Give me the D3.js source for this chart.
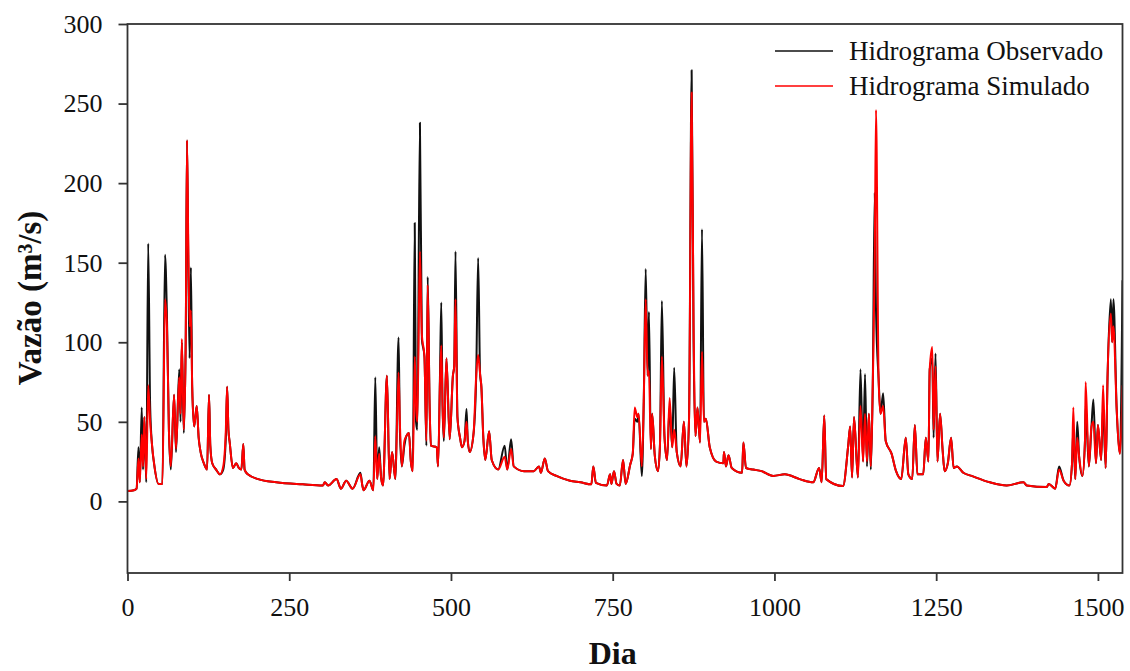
<!DOCTYPE html>
<html>
<head>
<meta charset="utf-8">
<script src="https://cdn.jsdelivr.net/npm/d3@7"></script>
<style>
  body { margin: 0; background: #fff; }
  svg text { font-family: "Liberation Serif", "Times New Roman", serif; fill: #111; }
</style>
</head>
<body>
<svg id="chart" width="1130" height="671"></svg>
<script>
// days (irregular, at peaks and troughs)
var dias = [0,10,14,17,19,22,24,26,29,32,35,38,41,48,54,58,61,64,67,72,75,80,82,84,87,90,92,94,96,98,
  100,103,107,110,113,118,123,126,128,131,137,143,148,152,154,156,158,163,168,172,176,179,181,186,202,230,271,
  302,305,310,323,330,338,348,360,363,365,374,380,383,386,389,392,395,
  401,405,409,414,419,421,424,428,431,435,438,441,444,446,448,452,455,459,462,464,467,469,478,480,483,485,487,489,493,498,
  503,505,507,510,514,517,521,524,526,529,535,539,542,545,547,550,553,559,563,573,583,587,593,597,
  613,628,636,639,645,650,663,684,700,717,720,724,741,746,748,752,756,761,766,770,777,781,784,788,790,795,798,
  801,804,806,809,811,815,820,823,826,830,834,838,842,845,849,855,860,864,868,872,875,878,881,885,888,891,894,
  900,910,921,922,925,929,934,950,952,956,967,980,998,1016,1039,1060,1069,1073,1077,1080,
  1106,1114,1117,1120,1123,1129,1133,1137,1140,1143,1146,1149,1152,1155,1157,1161,1164,1168,1172,1181,1188,1196,
  1203,1207,1213,1217,1221,1230,1234,1238,1240,1244,1246,1249,1252,1256,1260,1263,1268,1273,1277,1282,1292,
  1305,1333,1359,1385,1390,1421,1424,1434,1440,1447,1456,1460,1462,1465,1468,1471,1476,1480,1481,1486,1490,1493,1497,
  1500,1505,1508,1512,1515,1520,1522,1524,1529,1534,1538];

var observado = [6.5,7,8,34,12,59,20,53,12,162,60,35,24,11,11,155,116,45,20,67,31,83,50,100,43,102,227,150,90,147,
  72,47,60,40,31,24,20,67,35,24,20,17,20,40,72,45,37,21,24,21,20,36,20,17,14,12,10.7,
  10,12,10,14,8,13,8,18,10,7,13,7,78,14,34,15,10,
  79,14,31,14,103,45,22,35,41,43,25,19,175,50,45,238,102,91,35,141,60,35,34,22,79,125,60,38,90,39,
  79,85,157,53,40,34,38,58,38,31,43,79,153,80,72,40,26,44,26,20,35,20,39,22,
  19,19,22,18,27,19,16,13,12,10.7,22,11.7,10,17,11,19,11,10,26,11,23,30,52,50,55,16,63,
  146,79,119,33,55,29,19,35,126,41,26,60,34,84,31,22,50,22,52,271,100,41,59,37,171,50,52,
  34,25,24,31,22,29,21,18,37,21,20,19,16,17,14,12,21,12,54,14,
  9.6,35,47,15,53,15,83,25,80,22,55,20,74,194,120,77,55,68,38,30,19,14,
  40,17,14,48,17,17,40,25,83,90,40,93,25,55,32,19,24,40,21,22,18,
  16,12,10,12,10,9,11,8,22,13,10,24,45,14,50,28,16,38,60,22,47,64,24,
  48,26,60,21,80,127,100,127,58,30,139];

var simulado = [6.5,7,8,27,12,42,22,53,14,73,50,35,24,11,11,127,110,45,22,67,33,78,55,102,45,100,227,160,110,120,
  72,47,60,40,31,24,20,67,35,24,20,17,22,45,72,45,37,21,24,21,20,36,20,17,14,12,10.7,
  10,12,10,14,8,13,8,17,10,7,13,7,41,14,30,15,10,
  79,14,31,14,81,50,22,38,41,43,25,19,91,60,50,157,105,91,38,136,60,35,34,22,75,98,60,40,90,39,
  79,85,127,53,40,34,38,50,38,31,43,79,92,80,72,40,26,44,26,20,28,20,33,22,
  19,19,22,18,27,19,16,13,12,10.7,22,11.7,10,17,11,19,11,10,26,11,23,30,59,53,55,22,63,
  127,79,82,33,55,29,19,35,91,41,26,65,34,45,31,22,50,22,52,257,110,41,59,37,94,50,52,
  34,25,24,31,22,29,21,18,37,21,20,19,16,17,14,12,21,12,54,14,
  9.6,35,47,15,53,15,60,25,55,25,55,22,74,150,246,77,55,60,38,30,19,14,
  40,17,14,48,17,17,40,25,83,97,45,85,25,55,32,19,24,40,21,22,18,
  16,12,10,12,10,9,11,8,20,13,10,24,59,14,40,28,16,38,75,22,47,50,24,
  48,26,73,21,80,118,100,110,58,30,73];

var xTicks = [0, 250, 500, 750, 1000, 1250, 1500];
var yTicks = [0, 50, 100, 150, 200, 250, 300];
var serieNomes = ["Hidrograma Observado", "Hidrograma Simulado"];
var serieCores = ["#111111", "#ff0000"];

function desenha() {
  var svg = d3.select("#chart");
  var pLeft = 127.5, pRight = 1122.5, pTop = 24, pBottom = 573;

  var x = d3.scaleLinear().domain([0, 1538]).range([pLeft, pRight]);
  var y = d3.scaleLinear().domain([-45, 300]).range([pBottom, pTop]);

  svg.append("clipPath").attr("id", "clip")
    .append("rect").attr("x", pLeft).attr("y", pTop).attr("width", pRight - pLeft).attr("height", pBottom - pTop);

  var linha = d3.line()
    .curve(d3.curveMonotoneX)
    .x(function(d) { return x(d[0]); })
    .y(function(d) { return y(d[1]); });

  [observado, simulado].forEach(function(vals, i) {
    var pts = dias.map(function(d, k) { return [d, vals[k]]; });
    svg.append("path")
      .attr("clip-path", "url(#clip)")
      .attr("d", linha(pts))
      .attr("fill", "none")
      .attr("stroke", serieCores[i])
      .attr("stroke-width", 2)
      .attr("stroke-linejoin", "round");
  });

  // frame
  svg.append("rect")
    .attr("x", pLeft).attr("y", pTop).attr("width", pRight - pLeft).attr("height", pBottom - pTop)
    .attr("fill", "none").attr("stroke", "#333").attr("stroke-width", 1.8);

  // axes
  var xAxis = svg.append("g").attr("transform", "translate(0," + pBottom + ")")
    .call(d3.axisBottom(x).tickValues(xTicks).tickSize(8).tickPadding(17).tickFormat(d3.format("d")));
  var yAxis = svg.append("g").attr("transform", "translate(" + pLeft + ",0)")
    .call(d3.axisLeft(y).tickValues(yTicks).tickSize(9).tickPadding(16).tickFormat(d3.format("d")));
  [xAxis, yAxis].forEach(function(a) {
    a.select(".domain").remove();
    a.selectAll("line").attr("stroke", "#333").attr("stroke-width", 1.8);
    a.selectAll("text").attr("font-size", 26).attr("font-family", "Liberation Serif").attr("fill", "#111");
  });

  // titles
  svg.append("text")
    .attr("x", x(750)).attr("y", 664)
    .attr("text-anchor", "middle").attr("font-size", 32).attr("font-weight", "bold")
    .text("Dia");
  svg.append("text")
    .attr("transform", "translate(41,298) rotate(-90)")
    .attr("text-anchor", "middle").attr("font-size", 33).attr("font-weight", "bold")
    .text("Vazão (m³/s)");

  // legend
  var leg = svg.append("g");
  serieNomes.forEach(function(n, i) {
    var yy = 51 + i * 35;
    leg.append("line").attr("x1", 775).attr("x2", 833).attr("y1", yy).attr("y2", yy)
      .attr("stroke", serieCores[i]).attr("stroke-width", 1.6);
    leg.append("text").attr("x", 849).attr("y", yy + 9).attr("font-size", 27).text(n);
  });
}
desenha();
</script>
</body>
</html>
